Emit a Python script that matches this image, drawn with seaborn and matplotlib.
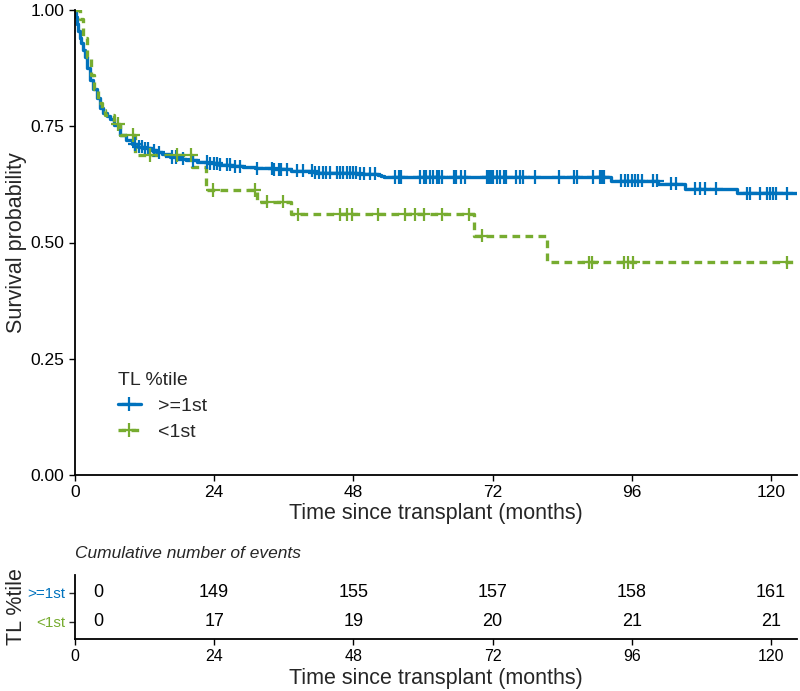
import numpy as np
import pandas as pd
import matplotlib
matplotlib.use("Agg")
import matplotlib.pyplot as plt
import seaborn as sns
from matplotlib.lines import Line2D

sns.set_theme(style="ticks")
plt.rcParams["font.family"] = ["Liberation Sans", "DejaVu Sans"]

groups = [">=1st", "<1st"]
colors = ["#0072BD", "#77AC30"]

hi_time = [0, 0.2, 0.4, 0.6, 0.8, 1.0, 1.34, 1.66, 2.07, 2.59, 3.1, 3.72, 4.34, 4.86, 5.48,
           6.0, 6.72, 7.76, 8.79, 9.83, 10.86, 11.79, 12.93, 13.97, 15.0, 16.35, 17.59,
           19.14, 21.0, 22.76, 24.83, 26.9, 28.97, 31.04, 34.14, 37.24, 41.38, 48.62,
           52.24, 52.76, 53.28, 92.48, 100.55, 105.21, 114.1, 124.5]
hi_surv = [1.0, 0.985, 0.97, 0.955, 0.94, 0.928, 0.914, 0.90, 0.875, 0.85, 0.83, 0.81,
           0.79, 0.778, 0.772, 0.765, 0.752, 0.731, 0.72, 0.712, 0.706, 0.703, 0.698,
           0.694, 0.69, 0.684, 0.68, 0.677, 0.673, 0.670, 0.667, 0.664, 0.662, 0.660,
           0.657, 0.654, 0.650, 0.648, 0.645, 0.643, 0.641, 0.633, 0.626, 0.616, 0.606, 0.606]
hi_censor = [10.3, 11.0, 11.5, 12.1, 12.6, 13.6, 14.4, 16.7, 17.5, 18.7, 20.4, 22.7, 23.3,
             23.9, 24.4, 25.0, 26.2, 26.7, 27.6, 28.4, 31.3, 33.9, 34.4, 35.1, 35.6, 36.5,
             38.2, 39.4, 40.8, 41.4, 42.0, 42.8, 43.3, 44.0, 45.1, 45.7, 46.2, 46.9, 47.4,
             48.0, 48.5, 49.1, 49.8, 50.9, 51.7, 55.1, 55.8, 56.3, 59.5, 60.1, 60.6, 61.2,
             61.8, 62.4, 62.7, 63.2, 65.3, 65.7, 66.6, 67.2, 71.0, 71.4, 71.8, 72.1, 72.7,
             73.2, 73.9, 74.4, 76.1, 76.8, 77.3, 79.3, 83.4, 86.0, 86.5, 89.4, 90.5, 90.9,
             91.2, 94.2, 94.9, 95.4, 96.0, 96.5, 97.1, 97.7, 99.7, 100.4, 102.8, 103.7,
             106.9, 107.8, 108.6, 110.6, 115.8, 116.4, 118.1, 119.3, 119.8, 120.4, 120.9,
             122.7]

lo_time = [0, 0.8, 1.4, 2.1, 2.7, 3.3, 3.9, 4.7, 5.2, 6.7, 7.8, 10.3, 20.2, 22.6, 31.3,
           37.3, 68.8, 81.4, 124.5]
lo_surv = [1.0, 0.98, 0.94, 0.90, 0.86, 0.83, 0.80, 0.785, 0.775, 0.755, 0.731, 0.688,
           0.662, 0.613, 0.588, 0.561, 0.515, 0.457, 0.457]
lo_censor = [7.4, 10.0, 12.9, 17.6, 20.0, 23.8, 31.0, 33.1, 35.9, 38.5, 45.7, 46.9, 47.7,
             52.3, 56.9, 58.7, 60.1, 63.2, 67.9, 70.1, 88.6, 89.2, 94.6, 95.4, 96.3, 122.7]

risk_times = [4.0, 24, 48, 72, 96, 120]
hi_events = [0, 149, 155, 157, 158, 161]
lo_events = [0, 17, 19, 20, 21, 21]
x_ticks = [0, 24, 48, 72, 96, 120]
y_ticks = [0.0, 0.25, 0.50, 0.75, 1.00]
x_max = 124.5

# ---- build tables
curve = pd.concat([
    pd.DataFrame({"time": hi_time, "surv": hi_surv, "group": groups[0]}),
    pd.DataFrame({"time": lo_time, "surv": lo_surv, "group": groups[1]}),
], ignore_index=True)


def censor_frame(times, ctimes, survs, g):
    t = np.asarray(times)
    s = np.asarray(survs)
    idx = np.searchsorted(t, ctimes, side="right") - 1
    return pd.DataFrame({"time": ctimes, "surv": s[idx], "group": g})


cens = pd.concat([
    censor_frame(hi_time, hi_censor, hi_surv, groups[0]),
    censor_frame(lo_time, lo_censor, lo_surv, groups[1]),
], ignore_index=True)

pal = dict(zip(groups, colors))
dash = {groups[0]: "", groups[1]: (2.3, 1.6)}

fig = plt.figure(figsize=(8, 6.91), dpi=100)
ax = fig.add_axes([75 / 800, 1 - 475 / 691, 722 / 800, 465 / 691])

sns.lineplot(data=curve, x="time", y="surv", hue="group", style="group",
             palette=pal, dashes=dash, drawstyle="steps-post", estimator=None,
             sort=False, lw=2.4, legend=False, ax=ax)
sns.scatterplot(data=cens, x="time", y="surv", hue="group", palette=pal,
                marker="+", s=90, linewidth=1.6, legend=False, ax=ax, zorder=3)

ax.set_xlim(0, x_max)
ax.set_ylim(0, 1)
ax.set_xticks(x_ticks)
ax.set_yticks(y_ticks)
ax.set_yticklabels([f"{v:.2f}" for v in y_ticks])
ax.tick_params(axis="both", labelsize=12.5, colors="black", width=1, length=4)
ax.set_xlabel("Time since transplant (months)", fontsize=15.5, labelpad=2)
ax.set_ylabel("Survival probability", fontsize=15.5, va="center")
ax.yaxis.set_label_coords(-0.081, 0.5)
for sp in ["top", "right"]:
    ax.spines[sp].set_visible(False)
for sp in ["left", "bottom"]:
    ax.spines[sp].set_linewidth(1.3)
    ax.spines[sp].set_color("black")

handles = [
    Line2D([], [], color=colors[0], lw=2.4, marker="+", ms=10, mew=1.6),
    Line2D([], [], color=colors[1], lw=2.4, ls=(0, (2.3, 1.6)), marker="+", ms=10, mew=1.6),
]
leg = ax.legend(handles, groups, title="TL %tile", frameon=False, fontsize=14,
                title_fontsize=14, loc="upper left", handlelength=1.2,
                bbox_to_anchor=(100 / 800, 1 - 354 / 691), bbox_transform=fig.transFigure,
                labelspacing=0.45, handletextpad=0.9)
leg._legend_box.align = "left"

# ---- risk table
ax2 = fig.add_axes([75 / 800, 1 - 639 / 691, 722 / 800, 64 / 691])
for t, a, b in zip(risk_times, hi_events, lo_events):
    ax2.text(t, 2, str(a), ha="center", va="center", fontsize=13, color="black")
    ax2.text(t, 1, str(b), ha="center", va="center", fontsize=13, color="black")
ax2.set_xlim(0, x_max)
ax2.set_ylim(0.414, 2.62)
ax2.set_xticks(x_ticks)
ax2.set_yticks([2, 1])
ax2.set_yticklabels(groups)
for lab, c in zip(ax2.get_yticklabels(), colors):
    lab.set_color(c)
ax2.tick_params(axis="x", labelsize=11.5, colors="black", width=1, length=4, pad=3)
ax2.tick_params(axis="y", labelsize=11, width=1, length=4, pad=3)
ax2.set_xlabel("Time since transplant (months)", fontsize=15.5, labelpad=3)
ax2.set_ylabel("TL %tile", fontsize=15.5, va="center")
ax2.yaxis.set_label_coords(-0.081, 0.5)
ax2.set_title("Cumulative number of events", fontsize=12.5, style="italic",
              loc="left", pad=12)
for sp in ["top", "right"]:
    ax2.spines[sp].set_visible(False)
for sp in ["left", "bottom"]:
    ax2.spines[sp].set_linewidth(1.3)
    ax2.spines[sp].set_color("black")

fig.savefig("out.png", dpi=100)
